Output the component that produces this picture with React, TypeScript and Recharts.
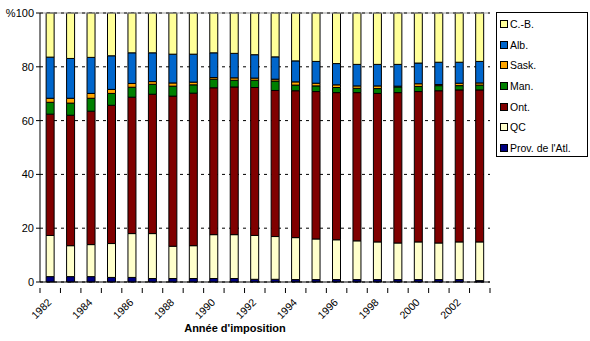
import { Bar, BarChart, CartesianGrid, Label, ReferenceLine, XAxis, YAxis } from "recharts";

const years = [
  "1982", "1983", "1984", "1985", "1986", "1987", "1988", "1989", "1990", "1991", "1992",
  "1993", "1994", "1995", "1996", "1997", "1998", "1999", "2000", "2001", "2002", "2003",
];

// shares in % per province
const atl = [2.0, 2.0, 2.0, 1.7, 1.7, 1.3, 1.3, 1.3, 1.3, 1.3, 1.0, 1.0, 0.9, 0.9, 0.9, 0.9, 0.9, 0.9, 0.9, 0.9, 0.9, 0.5];
const qc = [15.3, 11.5, 11.9, 12.6, 16.3, 16.7, 12.0, 12.2, 16.3, 16.3, 16.3, 15.9, 15.6, 15.1, 14.8, 14.4, 14.0, 13.6, 14.0, 13.6, 14.0, 14.4];
const ont = [45.1, 48.5, 49.6, 51.4, 50.7, 51.8, 55.8, 56.7, 54.6, 54.9, 55.0, 54.3, 54.6, 54.8, 54.7, 55.1, 55.2, 55.9, 55.9, 56.6, 56.5, 56.5];
const man = [4.4, 4.5, 4.8, 4.4, 3.7, 3.7, 3.7, 3.1, 3.2, 2.5, 2.7, 3.5, 2.1, 2.1, 1.9, 1.6, 1.8, 2.1, 1.9, 1.9, 1.6, 1.8];
const sask = [1.5, 1.8, 1.8, 1.5, 1.4, 1.0, 1.2, 1.0, 0.6, 0.9, 0.8, 0.7, 1.2, 1.0, 1.0, 0.9, 1.0, 0.3, 1.0, 0.4, 0.9, 0.8];
const alb = [15.3, 14.8, 13.4, 12.5, 11.4, 10.7, 10.7, 10.4, 9.2, 9.1, 8.7, 8.3, 7.8, 8.1, 7.9, 8.0, 8.0, 8.1, 7.7, 8.3, 7.8, 8.0];
const cb = [16.4, 16.9, 16.5, 15.9, 14.8, 14.8, 15.3, 15.3, 14.8, 15.0, 15.5, 16.3, 17.8, 18.0, 18.8, 19.1, 19.1, 19.1, 18.6, 18.3, 18.3, 18.0];

const yTicks = [0, 20, 40, 60, 80, 100];

// bottom-to-top stack order
const SERIES = [
  { key: "atl", name: "Prov. de l'Atl.", color: "#000080", values: atl },
  { key: "qc", name: "QC", color: "#FFFFCC", values: qc },
  { key: "ont", name: "Ont.", color: "#800000", values: ont },
  { key: "man", name: "Man.", color: "#008000", values: man },
  { key: "sask", name: "Sask.", color: "#FFA500", values: sask },
  { key: "alb", name: "Alb.", color: "#0066CC", values: alb },
  { key: "cb", name: "C.-B.", color: "#FFFF99", values: cb },
];

const data = years.map((year, i) => {
  const row: Record<string, string | number> = { year };
  SERIES.forEach((s) => (row[s.key] = s.values[i]));
  return row;
});

const FONT = "'Liberation Sans', Arial, sans-serif";

// tick marks sit between categories, labels every second year, rotated
function YearTick(props: any) {
  const { x, y, payload, index } = props;
  const half = payload?.offset ?? 10.2;
  const last = index === years.length - 1;
  return (
    <g>
      <line x1={x - half} x2={x - half} y1={y - 2} y2={y + 3} stroke="#000" />
      {last && <line x1={x + half} x2={x + half} y1={y - 2} y2={y + 3} stroke="#000" />}
      {index % 2 === 0 && (
        <text
          x={x + 2}
          y={y + 13}
          transform={`rotate(-45, ${x + 2}, ${y + 13})`}
          textAnchor="end"
          fontSize={10.5}
          fontFamily={FONT}
          fill="#000"
        >
          {payload.value}
        </text>
      )}
    </g>
  );
}

function AxisTitle(props: any) {
  const vb = props.viewBox;
  return (
    <text
      x={vb.x + vb.width / 2 - 30}
      y={vb.y + vb.height - 9}
      textAnchor="middle"
      fontSize={11}
      fontWeight="bold"
      fontFamily={FONT}
      fill="#000"
    >
      Année d'imposition
    </text>
  );
}

export default function App() {
  const legendItems = [...SERIES].reverse();
  return (
    <div style={{ position: "absolute", left: 0, top: 0, width: 590, height: 341, background: "#fff" }}>
      <BarChart
        width={590}
        height={341}
        data={data}
        margin={{ top: 13, right: 100, left: 0, bottom: 0 }}
        barCategoryGap="30%"
      >
        <CartesianGrid horizontal vertical={false} stroke="#000" strokeDasharray="3 4" />
        <XAxis
          dataKey="year"
          height={59}
          interval={0}
          tickLine={false}
          axisLine={{ stroke: "#000" }}
          tick={<YearTick />}
        >
          <Label content={<AxisTitle />} />
        </XAxis>
        <YAxis
          width={40}
          domain={[0, 100]}
          ticks={yTicks}
          tickSize={4}
          tickLine={{ stroke: "#000" }}
          axisLine={{ stroke: "#000" }}
          tick={{ fill: "#000", fontSize: 11, fontFamily: FONT }}
          tickFormatter={(v: number) => (v === 100 ? "%100" : String(v))}
        />
        <YAxis
          yAxisId="r"
          orientation="right"
          width={0}
          tick={false}
          tickLine={false}
          axisLine={{ stroke: "#999" }}
        />
        <ReferenceLine y={100} stroke="#999" />
        {SERIES.map((s) => (
          <Bar
            key={s.key}
            dataKey={s.key}
            name={s.name}
            stackId="a"
            fill={s.color}
            stroke="#000"
            strokeWidth={1}
            isAnimationActive={false}
          />
        ))}
      </BarChart>
      <div
        style={{
          position: "absolute",
          left: 496,
          top: 12,
          width: 92,
          height: 145,
          border: "1px solid #000",
          boxSizing: "border-box",
          fontFamily: FONT,
          fontSize: 10.5,
          paddingTop: 1,
          whiteSpace: "nowrap",
        }}
      >
        {legendItems.map((s) => (
          <div key={s.key} style={{ display: "flex", alignItems: "center", height: 20.6, paddingLeft: 3 }}>
            <span
              style={{
                width: 6,
                height: 6,
                background: s.color,
                border: "1px solid #000",
                marginRight: 2,
                display: "inline-block",
                flexShrink: 0,
              }}
            />
            <span>{s.name}</span>
          </div>
        ))}
      </div>
    </div>
  );
}
